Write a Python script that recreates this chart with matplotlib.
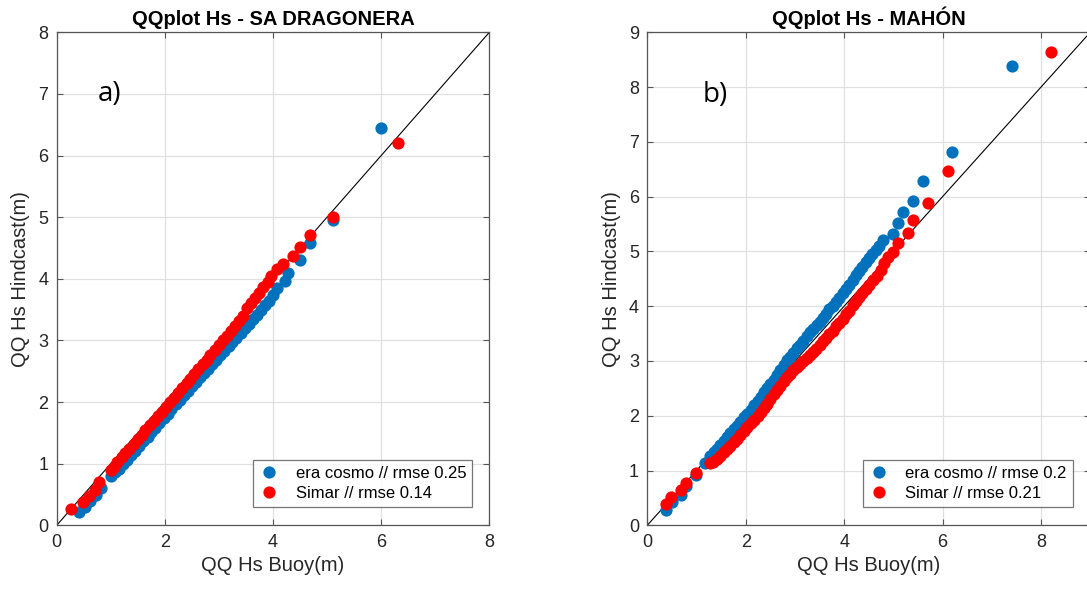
# -*- coding: utf-8 -*-
"""
QQ plots Hs: boya vs hindcast (era cosmo / Simar)
"""

import matplotlib
matplotlib.use('Agg')
import matplotlib.pyplot as plt

plt.rcParams['font.family'] = ['Liberation Sans', 'DejaVu Sans']

# ---- SA DRAGONERA ----
drag_cosmo_x = [0.42, 0.52, 0.62, 0.72, 0.82, 1.0, 1.08, 1.15, 1.22, 1.3, 1.38,
                1.45, 1.52, 1.6, 1.68, 1.75, 1.82, 1.9, 1.98, 2.05, 2.12, 2.2,
                2.28, 2.35, 2.42, 2.5, 2.58, 2.65, 2.72, 2.8, 2.88, 2.95, 3.02,
                3.1, 3.18, 3.25, 3.32, 3.4, 3.48, 3.55, 3.62, 3.7, 3.78, 3.85,
                3.92, 4.0, 4.07, 4.22, 4.28, 4.49, 4.69, 5.1, 6.0]
drag_cosmo_y = [0.21, 0.30, 0.40, 0.49, 0.60, 0.80, 0.86, 0.92, 0.99, 1.06, 1.14,
                1.21, 1.28, 1.36, 1.44, 1.51, 1.58, 1.66, 1.74, 1.81, 1.88, 1.96,
                2.04, 2.11, 2.18, 2.26, 2.33, 2.40, 2.47, 2.54, 2.62, 2.69, 2.76,
                2.83, 2.91, 2.98, 3.04, 3.12, 3.20, 3.27, 3.34, 3.42, 3.50, 3.57,
                3.64, 3.73, 3.85, 3.97, 4.10, 4.31, 4.58, 4.96, 6.44]

drag_simar_x = [0.27, 0.49, 0.60, 0.70, 0.79, 1.0, 1.06, 1.12, 1.2, 1.27, 1.34,
                1.42, 1.5, 1.57, 1.64, 1.72, 1.8, 1.87, 1.94, 2.02, 2.1, 2.17,
                2.24, 2.32, 2.4, 2.47, 2.54, 2.62, 2.7, 2.77, 2.84, 2.92, 3.0,
                3.07, 3.14, 3.22, 3.3, 3.37, 3.44, 3.52, 3.6, 3.67, 3.74, 3.82,
                3.9, 3.97, 4.07, 4.18, 4.37, 4.49, 4.69, 5.1, 6.31]
drag_simar_y = [0.27, 0.37, 0.47, 0.58, 0.70, 0.89, 0.95, 1.02, 1.10, 1.17, 1.24,
                1.32, 1.40, 1.47, 1.54, 1.62, 1.70, 1.77, 1.84, 1.92, 2.0, 2.07,
                2.15, 2.23, 2.31, 2.38, 2.45, 2.53, 2.61, 2.69, 2.76, 2.84, 2.92,
                3.0, 3.07, 3.15, 3.24, 3.31, 3.39, 3.52, 3.60, 3.68, 3.77, 3.86,
                3.95, 4.05, 4.16, 4.24, 4.37, 4.52, 4.71, 5.0, 6.2]

# ---- MAHON ----
mah_cosmo_x = [0.38, 0.50, 0.69, 0.79, 0.99, 1.18, 1.28, 1.35, 1.42, 1.48, 1.55,
               1.62, 1.69, 1.76, 1.83, 1.89, 1.96, 2.03, 2.1, 2.17, 2.24, 2.3,
               2.37, 2.44, 2.5, 2.57, 2.64, 2.7, 2.77, 2.84, 2.9, 2.97, 3.04,
               3.1, 3.17, 3.24, 3.3, 3.37, 3.44, 3.5, 3.57, 3.63, 3.7, 3.77,
               3.84, 3.9, 3.97, 4.04, 4.1, 4.17, 4.24, 4.3, 4.37, 4.44, 4.5,
               4.57, 4.64, 4.7, 4.79, 4.99, 5.09, 5.19, 5.39, 5.6, 6.19, 7.41]
mah_cosmo_y = [0.27, 0.42, 0.56, 0.72, 0.92, 1.13, 1.26, 1.33, 1.40, 1.47, 1.54,
               1.61, 1.68, 1.75, 1.82, 1.89, 1.97, 2.04, 2.11, 2.19, 2.27, 2.35,
               2.43, 2.51, 2.58, 2.66, 2.75, 2.83, 2.92, 3.01, 3.07, 3.15, 3.23,
               3.29, 3.37, 3.45, 3.52, 3.59, 3.66, 3.71, 3.79, 3.86, 3.94, 4.01,
               4.08, 4.14, 4.24, 4.31, 4.39, 4.48, 4.56, 4.64, 4.71, 4.80, 4.88,
               4.95, 5.03, 5.10, 5.21, 5.31, 5.52, 5.72, 5.92, 6.28, 6.81, 8.39]

mah_simar_x = [0.38, 0.48, 0.69, 0.79, 0.99, 1.28, 1.34, 1.41, 1.48, 1.55, 1.62,
               1.69, 1.76, 1.82, 1.89, 1.96, 2.03, 2.1, 2.17, 2.24, 2.3, 2.37,
               2.44, 2.5, 2.57, 2.64, 2.7, 2.77, 2.84, 2.9, 2.97, 3.04, 3.1,
               3.17, 3.24, 3.3, 3.37, 3.43, 3.5, 3.57, 3.63, 3.7, 3.77, 3.84,
               3.9, 3.97, 4.04, 4.1, 4.17, 4.24, 4.3, 4.37, 4.44, 4.5, 4.58,
               4.67, 4.74, 4.81, 4.9, 4.99, 5.09, 5.29, 5.39, 5.70, 6.10, 8.2]
mah_simar_y = [0.38, 0.52, 0.64, 0.78, 0.95, 1.13, 1.16, 1.21, 1.27, 1.33, 1.39,
               1.45, 1.52, 1.58, 1.65, 1.72, 1.79, 1.86, 1.93, 2.0, 2.06, 2.14,
               2.22, 2.31, 2.40, 2.47, 2.55, 2.63, 2.70, 2.76, 2.83, 2.89, 2.95,
               3.0, 3.05, 3.10, 3.16, 3.21, 3.29, 3.36, 3.42, 3.49, 3.55, 3.63,
               3.70, 3.77, 3.85, 3.92, 4.02, 4.10, 4.17, 4.24, 4.32, 4.39, 4.47,
               4.55, 4.66, 4.78, 4.89, 4.99, 5.15, 5.34, 5.57, 5.89, 6.46, 8.64]

titulos = ['QQplot Hs - SA DRAGONERA', 'QQplot Hs - MAHÓN']
etiquetas = ['a)', 'b)']
leyenda_drag = ['era cosmo // rmse 0.25', 'Simar // rmse 0.14']
leyenda_mah = ['era cosmo // rmse 0.2', 'Simar // rmse 0.21']

azul = '#0072BD'
rojo = '#FF0000'
gris = '#262626'

fig = plt.figure(figsize=(10.87, 5.92), dpi=100)
ax1 = fig.add_axes([0.0522, 0.1127, 0.398, 0.8328])
ax2 = fig.add_axes([0.5955, 0.1127, 0.4075, 0.8328])

datos = [(ax1, drag_cosmo_x, drag_cosmo_y, drag_simar_x, drag_simar_y, 8, leyenda_drag, (0.76, 6.88)),
         (ax2, mah_cosmo_x, mah_cosmo_y, mah_simar_x, mah_simar_y, 9, leyenda_mah, (1.13, 7.73))]

for i, (ax, cx, cy, sx, sy, lim, ley, pos) in enumerate(datos):
    ax.plot([0, lim], [0, lim], color='black', lw=0.8, zorder=2)
    ax.plot(cx, cy, 'o', color=azul, ms=8.8, mew=0, label=ley[0], zorder=3)
    ax.plot(sx, sy, 'o', color=rojo, ms=8.8, mew=0, label=ley[1], zorder=4)
    ax.set_xlim(0, lim)
    ax.set_ylim(0, lim)
    ax.set_xticks(range(0, lim + 1, 2))
    ax.set_yticks(range(0, lim + 1))
    ax.grid(True, color='#e0e0e0', lw=0.9)
    ax.set_axisbelow(True)
    for s in ax.spines.values():
        s.set_color('#555555')
        s.set_linewidth(0.9)
    ax.tick_params(direction='in', length=4, top=True, right=True,
                   labelsize=13, colors='#555555', labelcolor=gris, pad=6)
    ax.set_title(titulos[i], fontsize=14.5, fontweight='bold', pad=5)
    ax.set_xlabel('QQ Hs Buoy(m)', fontsize=14.5, color=gris, labelpad=4)
    ax.set_ylabel('QQ Hs Hindcast(m)', fontsize=14.5, color=gris, labelpad=6)
    ax.text(pos[0], pos[1], etiquetas[i], fontsize=20, family=['Open Sans', 'DejaVu Sans'])
    leg = ax.legend(loc='lower right', bbox_to_anchor=(0.96, 0.037), fontsize=12,
                    frameon=True, fancybox=False, edgecolor='#555555',
                    handlelength=1.2, handletextpad=1.0, borderpad=0.35,
                    labelspacing=0.3, borderaxespad=0)
    leg.get_frame().set_linewidth(0.9)

fig.savefig('out.png', dpi=100)
